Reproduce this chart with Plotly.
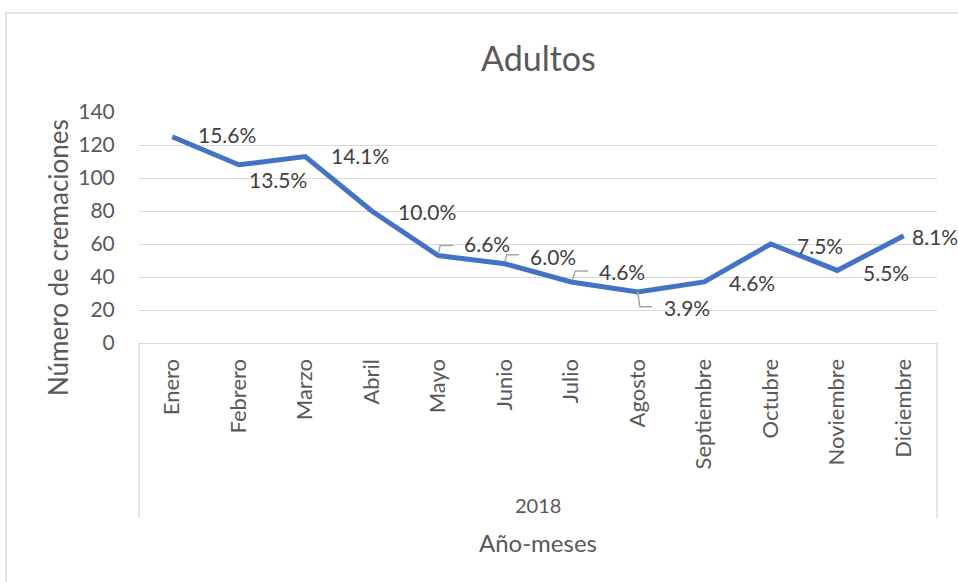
import plotly.graph_objects as go

months = ["Enero", "Febrero", "Marzo", "Abril", "Mayo", "Junio", "Julio",
          "Agosto", "Septiembre", "Octubre", "Noviembre", "Diciembre"]
cremaciones = [125, 108, 113, 80, 53, 48, 37, 31, 37, 60, 44, 65]
porcentajes = ["15.6%", "13.5%", "14.1%", "10.0%", "6.6%", "6.0%", "4.6%",
               "3.9%", "4.6%", "7.5%", "5.5%", "8.1%"]
year_label = "2018"
y_ticks = [0, 20, 40, 60, 80, 100, 120, 140]

title_text = "Adultos"
y_title = "Número de cremaciones"
x_title = "Año-meses"

FONT = "Lato"
TXT = "#595959"
LBL = "#404040"
GRID = "#D9D9D9"
LINE = "#4472C4"

W, H = 958, 582
L, R, T, B = 139, 21, 112, 239
PW, PH = W - L - R, H - T - B

fig = go.Figure()
fig.add_trace(go.Scatter(
    x=months, y=cremaciones, mode="lines",
    line=dict(color=LINE, width=5, shape="linear"),
    hoverinfo="skip", showlegend=False,
))

# label placement: (xshift px, yshift px) of left edge / vertical centre
label_offsets = [(24, 2), (8, -15), (24, 1), (24, 0), (24, 12), (23, 7),
                 (26, 10), (24, -16), (23, -1), (24, -1), (24, -2), (6, -1)]
# leader lines (pixel paths relative to point, y up)
leaders = {4: [(0, 2), (2, 10), (15, 10)],
           5: [(0, 2), (2, 9), (14, 9)],
           6: [(1, 2), (4, 11), (17, 11)],
           7: [(0, 0), (2, -15), (14, -15)]}

annotations = []
shapes = []
for i, (m, v, p) in enumerate(zip(months, cremaciones, porcentajes)):
    dx, dy = label_offsets[i]
    annotations.append(dict(
        x=m, y=v, xref="x", yref="y", text=p, showarrow=False,
        xanchor="left", yanchor="middle", xshift=dx, yshift=dy,
        font=dict(family=FONT, size=21, color=LBL),
    ))
    if i in leaders:
        pts = leaders[i]
        path = "M " + " L ".join(f"{a},{b}" for a, b in pts)
        shapes.append(dict(
            type="path", xref="x", yref="y", xsizemode="pixel", ysizemode="pixel",
            xanchor=m, yanchor=v, path=path,
            line=dict(color="#A6A6A6", width=1.5),
        ))

# category box side lines
for xd in (0, 1):
    shapes.append(dict(type="line", xref="x domain", yref="paper",
                       x0=xd, x1=xd, y0=0, y1=-(518 - 343) / PH,
                       line=dict(color=GRID, width=1.3)))

# outer chart border (left and top edges)
bx = (6 - L) / PW
by = (H - B - 13) / PH
shapes.append(dict(type="path", xref="paper", yref="paper",
                   path=f"M {bx},-5 L {bx},{by} L 5,{by}",
                   line=dict(color=GRID, width=1.5)))

annotations.append(dict(
    x=0.5, y=-(505 - 343) / PH, xref="paper", yref="paper", text=year_label,
    showarrow=False, xanchor="center", yanchor="middle",
    font=dict(family=FONT, size=20, color=TXT)))
annotations.append(dict(
    x=0.5, y=-(542 - 343) / PH, xref="paper", yref="paper", text=x_title,
    showarrow=False, xanchor="center", yanchor="middle",
    font=dict(family=FONT, size=24, color=TXT)))
annotations.append(dict(
    x=(58 - L) / PW, y=(343 - 258) / PH, xref="paper", yref="paper", text=y_title,
    showarrow=False, xanchor="center", yanchor="middle", textangle=-90,
    font=dict(family=FONT, size=26, color=TXT)))
annotations.append(dict(
    x=0.5, y=(343 - 58) / PH, xref="paper", yref="paper", text=title_text,
    showarrow=False, xanchor="center", yanchor="middle",
    font=dict(family=FONT, size=34, color=TXT)))

fig.update_layout(
    width=W, height=H,
    margin=dict(l=L, r=R, t=T, b=B, pad=0),
    paper_bgcolor="white", plot_bgcolor="white",
    font=dict(family=FONT, color=TXT),
    xaxis=dict(type="category", range=[-0.5, len(months) - 0.5],
               tickangle=-90, showgrid=False, zeroline=False,
               showline=True, linecolor=GRID, linewidth=1.3,
               ticks="outside", ticklen=6, tickcolor="rgba(0,0,0,0)",
               tickfont=dict(family=FONT, size=22, color=TXT)),
    yaxis=dict(range=[0, 140], tickvals=y_ticks, showgrid=True, gridcolor=GRID,
               gridwidth=1.3, zeroline=False, showline=False,
               ticks="outside", ticklen=19, tickcolor="rgba(0,0,0,0)",
               tickfont=dict(family=FONT, size=21, color=TXT)),
    annotations=annotations,
    shapes=shapes,
)

fig.write_html("out.html", config={"displayModeBar": False},
               post_script="document.body.style.margin='0';")
